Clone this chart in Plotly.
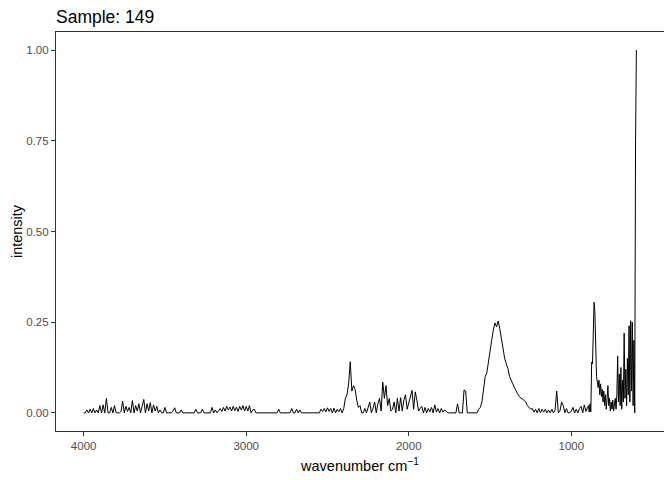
import numpy as np
import plotly.graph_objects as go

# ---- data ----
# high-wavenumber part: 4000 -> 910 cm-1, every 10 cm-1 (rows of 10)
wavenumber_hi = np.arange(4000, 905, -10)
intensity_hi = [
    0, 0, 0.008, 0, 0.01, 0, 0.012, 0, 0.008, 0,                    # 4000
    0.02, 0, 0.022, 0, 0.04, 0, 0, 0.015, 0, 0.02,                  # 3900
    0, 0, 0, 0.004, 0.032, 0, 0.018, 0.004, 0.015, 0,               # 3800
    0.034, 0, 0.02, 0.005, 0.025, 0, 0.02, 0.037, 0, 0.025,         # 3700
    0.005, 0.028, 0, 0.022, 0.005, 0.018, 0, 0.008, 0, 0,           # 3600
    0.015, 0, 0, 0, 0, 0.005, 0.014, 0, 0, 0,                       # 3500
    0.008, 0, 0, 0, 0, 0, 0, 0, 0, 0.01,                            # 3400
    0, 0, 0, 0.01, 0, 0, 0, 0, 0, 0.015,                            # 3300
    0, 0.008, 0, 0.006, 0.012, 0.004, 0.015, 0.005, 0.018, 0.008,   # 3200
    0.016, 0.005, 0.018, 0.006, 0.016, 0.004, 0.018, 0.008, 0.02, 0.005,  # 3100
    0.018, 0.005, 0.02, 0, 0.008, 0.01, 0, 0, 0, 0,                 # 3000
    0, 0, 0, 0, 0, 0, 0, 0, 0, 0,                                   # 2900
    0.01, 0, 0, 0, 0, 0, 0, 0, 0.012, 0,                            # 2800
    0, 0.01, 0, 0.008, 0, 0, 0, 0, 0, 0,                            # 2700
    0, 0, 0, 0, 0, 0, 0.01, 0.004, 0.012, 0.003,                    # 2600
    0.014, 0.004, 0.012, 0, 0.013, 0, 0.01, 0.003, 0.012, 0,        # 2500
    0.012, 0.04, 0.05, 0.08, 0.141, 0.06, 0.075, 0.065, 0.035, 0.015,  # 2400
    0.02, 0, 0, 0.012, 0, 0.015, 0.03, 0, 0.012, 0.03,              # 2300
    0, 0.025, 0.04, 0.005, 0.085, 0.04, 0.075, 0.02, 0.04, 0.005,   # 2200
    0.01, 0.03, 0, 0.04, 0.005, 0.042, 0.005, 0.035, 0.05, 0.01,    # 2100
    0.03, 0.045, 0.062, 0.01, 0.058, 0.035, 0.005, 0.012, 0.018, 0, # 2000
    0.015, 0, 0.012, 0.003, 0.015, 0, 0.022, 0.002, 0.012, 0,       # 1900
    0.012, 0.002, 0.008, 0.005, 0, 0, 0, 0, 0, 0,                   # 1800
    0.025, 0, 0, 0, 0.063, 0.06, 0, 0, 0, 0,                        # 1700
    0, 0, 0, 0.01, 0.015, 0.03, 0.06, 0.1, 0.11, 0.145,             # 1600
    0.165, 0.2, 0.228, 0.248, 0.237, 0.253, 0.232, 0.2, 0.17, 0.15, # 1500
    0.135, 0.122, 0.1, 0.092, 0.08, 0.07, 0.06, 0.052, 0.046, 0.04, # 1400
    0.038, 0.034, 0.03, 0.02, 0.014, 0.01, 0.012, 0.002, 0.01, 0,   # 1300
    0.012, 0, 0.01, 0.002, 0.01, 0, 0.008, 0, 0.01, 0,              # 1200
    0.008, 0.06, 0, 0.005, 0.03, 0.02, 0, 0.012, 0, 0,              # 1100
    0.005, 0.015, 0, 0.01, 0, 0.012, 0.018, 0, 0.022, 0.004,        # 1000
]

# low-wavenumber part: 900 -> 600 cm-1, every 5 cm-1
wavenumber_lo = np.arange(900, 595, -5)
intensity_lo = [
    0.015,                                                          # 900
    0.02, 0.002, 0.025, 0.003, 0.14, 0.135, 0.25, 0.305, 0.275, 0.17,  # 895-850
    0.1, 0.085, 0.07, 0.09, 0.05, 0.08, 0.045, 0.065, 0.03, 0.06,     # 845-800
    0.02, 0.05, 0.01, 0.04, 0.075, 0.02, 0.04, 0.005, 0.03, 0.01,     # 795-750
    0.035, 0.005, 0.025, 0.04, 0.01, 0.05, 0.157, 0.03, 0.107, 0.02,  # 745-700
    0.125, 0.01, 0.09, 0.03, 0.22, 0.04, 0.12, 0.02, 0.15, 0.05,      # 695-650
    0.24, 0.03, 0.254, 0.06, 0.25, 0.02, 0.2, 0.0, 0.75, 1.0,         # 645-600
]

wavenumber = np.concatenate([wavenumber_hi, wavenumber_lo])
intensity = np.array(intensity_hi + intensity_lo)

title_text = "Sample: 149"
x_ticks = [4000, 3000, 2000, 1000]
y_ticks = [0.0, 0.25, 0.5, 0.75, 1.0]

fig = go.Figure(
    go.Scatter(x=wavenumber, y=intensity, mode="lines",
               line=dict(color="black", width=1), hoverinfo="skip")
)

font_family = "Liberation Sans, Arial, sans-serif"
axis_common = dict(
    showgrid=False, zeroline=False, automargin=False,
    showline=True, mirror=True, linecolor="#333333", linewidth=1.1,
    ticks="outside", ticklen=4, tickwidth=1.1, tickcolor="#333333",
    tickfont=dict(family=font_family, size=11.5, color="#4D4D4D"),
)

# the page body adds an 8px offset; margins are set so the panel lands
# at the reference position in the 672x480 window
fig.update_layout(
    width=672, height=480,
    margin=dict(l=48, r=16, t=24, b=57),
    paper_bgcolor="white", plot_bgcolor="white",
    showlegend=False,
    font=dict(family=font_family, color="black"),
    title=dict(text=title_text, x=0, xref="paper", xanchor="left",
               y=1 - 9 / 480, yref="container", yanchor="middle",
               automargin=False,
               font=dict(family=font_family, size=17.5, color="black")),
    xaxis=dict(range=[4170, 430], tickvals=x_ticks,
               ticktext=[str(v) for v in x_ticks],
               title=dict(text="wavenumber cm<sup>\u22121</sup>",
                          font=dict(family=font_family, size=14.5),
                          standoff=10),
               **axis_common),
    yaxis=dict(range=[-0.05, 1.05], tickvals=y_ticks, tickformat=".2f",
               title=dict(text="intensity",
                          font=dict(family=font_family, size=14.5),
                          standoff=0),
               **axis_common),
)

fig.write_html("out.html")
